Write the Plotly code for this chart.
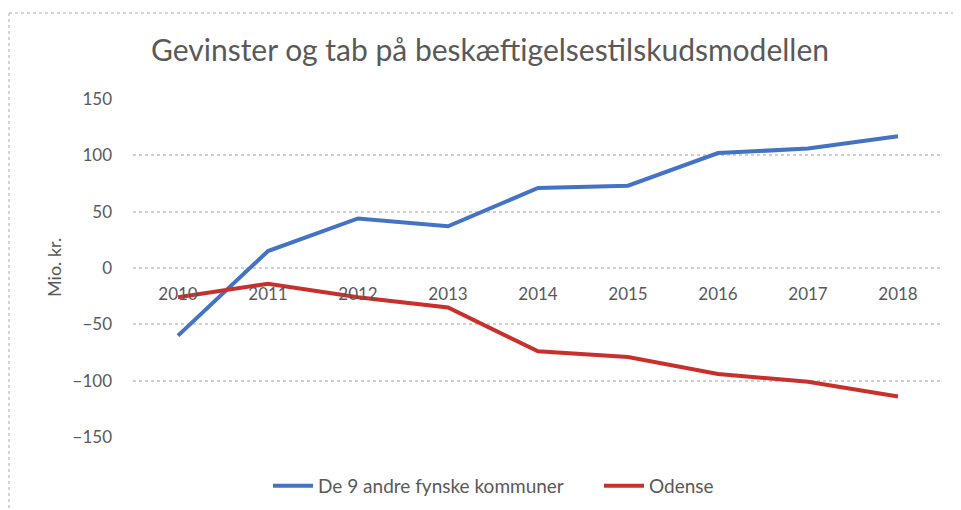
import plotly.graph_objects as go

years = ["2010", "2011", "2012", "2013", "2014", "2015", "2016", "2017", "2018"]
andre = [-60, 15, 44, 37, 71, 73, 102, 106, 117]
odense = [-26, -14, -26, -35, -74, -79, -94, -101, -114]
ytick_vals = [-150, -100, -50, 0, 50, 100, 150]

title_text = "Gevinster og tab på beskæftigelsestilskudsmodellen"
ytitle = "Mio. kr."
name_andre = "De 9 andre fynske kommuner"
name_odense = "Odense"

# page has an 8px body margin; figure coords = page coords - 8
W, H = 953, 502
L, R, T, B = 125, 18, 91, 73
pw, ph = W - L - R, H - T - B

FONT = "Lato, Open Sans, sans-serif"
GRAY = "#595959"

fig = go.Figure()
fig.add_trace(go.Scatter(x=years, y=andre, mode="lines", name=name_andre,
                         line=dict(color="#4472C4", width=4)))
fig.add_trace(go.Scatter(x=years, y=odense, mode="lines", name=name_odense,
                         line=dict(color="#C9302C", width=4)))

def px_x(p):
    return (p - L) / pw

def px_y(p):
    return (H - B - p) / ph

border = dict(color="#c8c8c8", width=1.5, dash="dot")
fig.add_shape(type="line", xref="paper", yref="paper",
              x0=px_x(1), x1=px_x(W), y0=px_y(5), y1=px_y(5), line=border)
fig.add_shape(type="line", xref="paper", yref="paper",
              x0=px_x(1), x1=px_x(1), y0=px_y(5), y1=px_y(H), line=border)

fig.add_annotation(text=ytitle, xref="paper", yref="paper",
                   x=px_x(46), y=0.5, xanchor="center", yanchor="middle",
                   textangle=-90, showarrow=False,
                   font=dict(size=18, color=GRAY, family=FONT))

fig.update_layout(
    width=W, height=H,
    margin=dict(l=L, r=R, t=T, b=B),
    paper_bgcolor="white", plot_bgcolor="white",
    font=dict(family=FONT, color=GRAY, size=17),
    title=dict(text=title_text, x=482 / W, xref="container", xanchor="center",
               y=1 - 42 / H, yref="container", yanchor="middle",
               font=dict(size=30, color=GRAY, family=FONT)),
    showlegend=True,
    legend=dict(orientation="h", x=260 / W, xref="container", xanchor="left",
                y=1 - 478 / H, yref="container", yanchor="middle",
                font=dict(size=19, color=GRAY), itemwidth=40,
                entrywidth=276, entrywidthmode="pixels"),
    xaxis=dict(type="category", anchor="free", position=0.5, automargin=False,
               showgrid=False, showline=False, zeroline=False, ticks="",
               ticklabelstandoff=14, tickfont=dict(size=17, color=GRAY),
               range=[-0.5, len(years) - 0.5]),
    yaxis=dict(range=[-150, 150], tickvals=ytick_vals, domain=[0, 1], automargin=False,
               showgrid=True, gridcolor="#d0d0d0", griddash="dot", gridwidth=1.5,
               zeroline=False, showline=False, ticks="",
               ticklabelstandoff=20, tickfont=dict(size=17, color=GRAY)),
)

fig.write_html("out.html")
